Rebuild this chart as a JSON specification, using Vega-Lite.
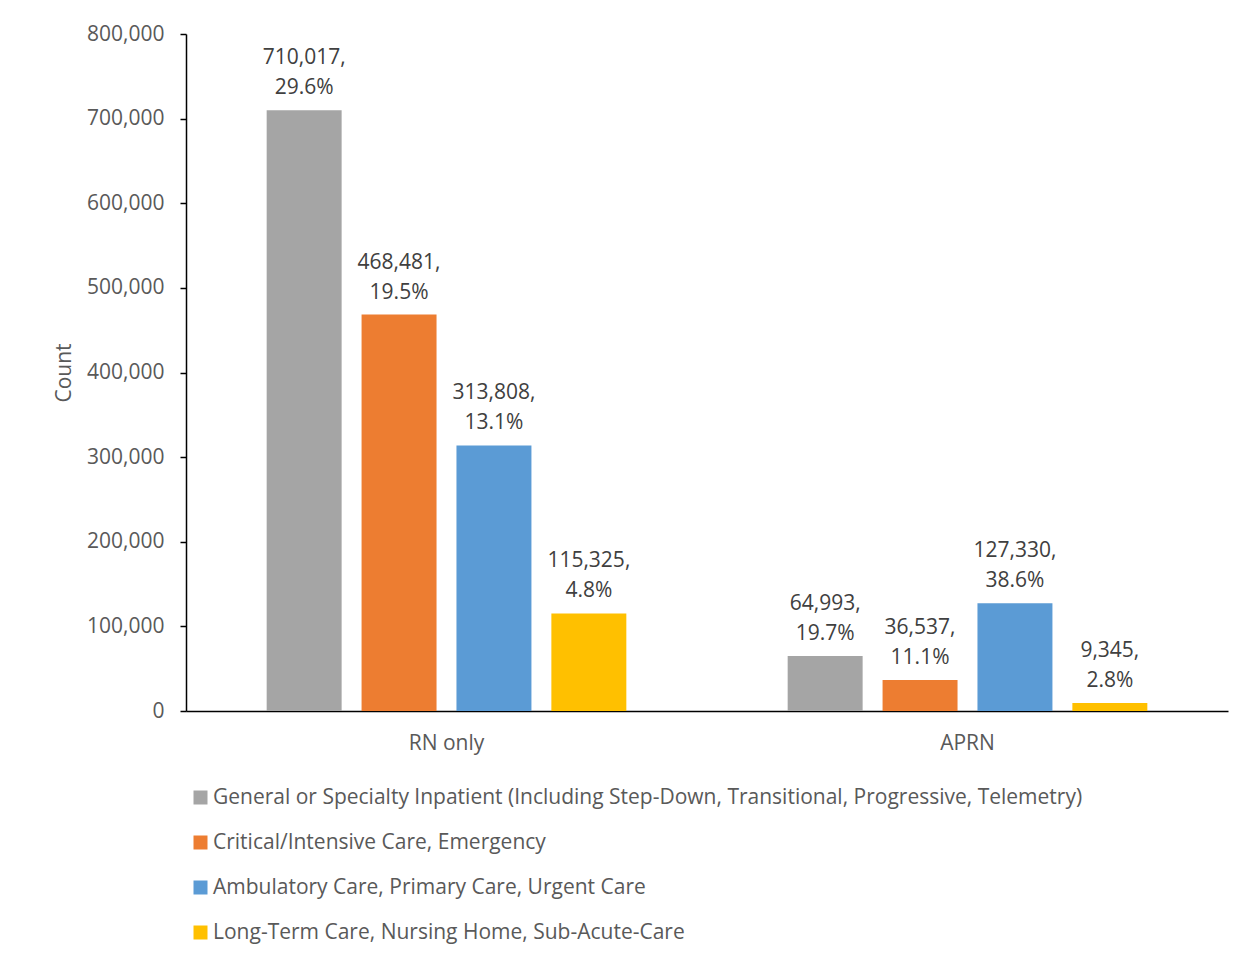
{
  "$schema": "https://vega.github.io/schema/vega-lite/v6.json",
  "autosize": {"type": "none"},
  "padding": {"left": 186, "top": 34, "right": 29, "bottom": 248},
  "width": 1042,
  "height": 677,
  "background": "white",
  "config": {
    "font": "Open Sans",
    "view": {"stroke": null},
    "text": {"font": "Open Sans"}
  },
  "data": {
    "values": [
      {"group": "RN only", "setting": "General or Specialty Inpatient (Including Step-Down, Transitional, Progressive, Telemetry)", "count": 710017, "pct": "29.6%"},
      {"group": "RN only", "setting": "Critical/Intensive Care, Emergency", "count": 468481, "pct": "19.5%"},
      {"group": "RN only", "setting": "Ambulatory Care, Primary Care, Urgent Care", "count": 313808, "pct": "13.1%"},
      {"group": "RN only", "setting": "Long-Term Care, Nursing Home, Sub-Acute-Care", "count": 115325, "pct": "4.8%"},
      {"group": "APRN", "setting": "General or Specialty Inpatient (Including Step-Down, Transitional, Progressive, Telemetry)", "count": 64993, "pct": "19.7%"},
      {"group": "APRN", "setting": "Critical/Intensive Care, Emergency", "count": 36537, "pct": "11.1%"},
      {"group": "APRN", "setting": "Ambulatory Care, Primary Care, Urgent Care", "count": 127330, "pct": "38.6%"},
      {"group": "APRN", "setting": "Long-Term Care, Nursing Home, Sub-Acute-Care", "count": 9345, "pct": "2.8%"}
    ]
  },
  "transform": [
    {"calculate": "[format(datum.count, ',d') + ',', datum.pct]", "as": "label"}
  ],
  "encoding": {
    "x": {
      "field": "group", "type": "nominal", "sort": ["RN only", "APRN"],
      "scale": {"paddingInner": 0, "paddingOuter": 0},
      "axis": {
        "title": null, "labelAngle": 0, "ticks": false,
        "domainColor": "#000000", "domainWidth": 1.5,
        "labelFontSize": 21, "labelColor": "#595959", "labelPadding": 21
      }
    },
    "xOffset": {
      "field": "setting", "type": "nominal",
      "sort": [
        "General or Specialty Inpatient (Including Step-Down, Transitional, Progressive, Telemetry)",
        "Critical/Intensive Care, Emergency",
        "Ambulatory Care, Primary Care, Urgent Care",
        "Long-Term Care, Nursing Home, Sub-Acute-Care"
      ],
      "scale": {"paddingInner": 0.21, "paddingOuter": 0.85}
    },
    "y": {
      "field": "count", "type": "quantitative",
      "scale": {"domain": [0, 800000]},
      "axis": {
        "title": "Count", "titleFontSize": 21, "titleFontWeight": "normal", "titleColor": "#595959",
        "titlePadding": 12,
        "values": [0, 100000, 200000, 300000, 400000, 500000, 600000, 700000, 800000],
        "format": ",d", "grid": false,
        "domainColor": "#000000", "domainWidth": 1.5,
        "tickColor": "#000000", "tickSize": 6, "tickWidth": 1.5,
        "labelFontSize": 21, "labelColor": "#595959", "labelPadding": 16
      }
    }
  },
  "layer": [
    {
      "mark": {"type": "bar"},
      "encoding": {
        "color": {
          "field": "setting", "type": "nominal",
          "sort": [
            "General or Specialty Inpatient (Including Step-Down, Transitional, Progressive, Telemetry)",
            "Critical/Intensive Care, Emergency",
            "Ambulatory Care, Primary Care, Urgent Care",
            "Long-Term Care, Nursing Home, Sub-Acute-Care"
          ],
          "scale": {"range": ["#A5A5A5", "#ED7D31", "#5B9BD5", "#FFC000"]},
          "legend": {
            "title": null, "orient": "none", "direction": "vertical",
            "legendX": 4, "legendY": 753,
            "symbolType": "square", "symbolSize": 196, "symbolStrokeWidth": 0,
            "labelFontSize": 21, "labelColor": "#595959", "labelLimit": 1000,
            "labelOffset": 2, "rowPadding": 23
          }
        }
      }
    },
    {
      "mark": {"type": "text", "baseline": "bottom", "dy": -42, "fontSize": 21, "lineHeight": 30, "color": "#404040"},
      "encoding": {"text": {"field": "label"}}
    }
  ]
}
